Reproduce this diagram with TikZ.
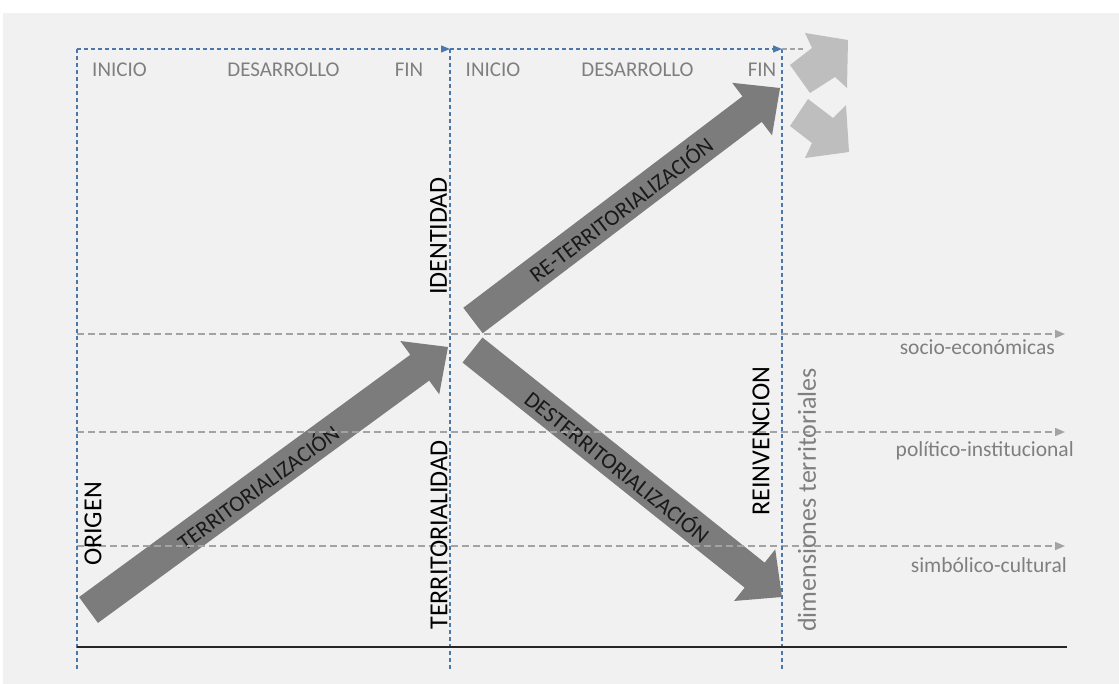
\documentclass[tikz,border=0pt]{standalone}
\usepackage{fontspec}
\setmainfont{Carlito}
\usetikzlibrary{calc,arrows.meta}
\definecolor{bgcol}{HTML}{F1F1F1}
\definecolor{axblue}{HTML}{4A78AD}
\definecolor{dimgray}{HTML}{A3A3A3}
\definecolor{txtgray}{HTML}{7F7F7F}
\definecolor{arrgray}{HTML}{7C7C7C}
\definecolor{ltgray}{HTML}{BEBEBE}
\tikzset{
  phase/.style={font=\fontsize{21}{24}\selectfont, text=txtgray, inner sep=0pt},
  milestone/.style={font=\fontsize{26}{30}\selectfont, rotate=90, inner sep=0pt},
  dimlab/.style={font=\fontsize{21.5}{24}\selectfont, text=txtgray, inner sep=0pt, anchor=east},
  arrlab/.style={font=\fontsize{22.5}{26}\selectfont, text=black!90, inner sep=0pt, sloped},
  timeln/.style={axblue, line width=1.2pt, dash pattern=on 4pt off 3pt},
  dimln/.style={dimgray, line width=1.4pt, dash pattern=on 7pt off 4pt, -{Triangle[length=10pt,width=8pt]}},
  bigarr/.style={fill=arrgray},
  smallarr/.style={fill=ltgray},
}
% fat arrow from tail #1 to tip #2
\newcommand\fatarrow[2]{%
  \coordinate (#2base) at ($(#2)!35pt!(#1)$);
  \fill[bigarr] ($(#1)!16pt!90:(#2)$) -- ($(#2base)!16pt!90:(#2)$) -- ($(#2base)!33pt!90:(#2)$)
    -- (#2) -- ($(#2base)!33pt!-90:(#2)$) -- ($(#2base)!16pt!-90:(#2)$) -- ($(#1)!16pt!-90:(#2)$) -- cycle;
}

\begin{document}
\begin{tikzpicture}[x=1pt, y=-1pt]
\useasboundingbox (0,0) rectangle (1119,684);
\fill[white] (0,0) rectangle (1119,684);
\fill[bgcol] (3,13) rectangle (1119,684);

% the three phases
\coordinate (tA) at (88.5,610); \coordinate (hA) at (448,347);
\coordinate (tB) at (473,320.5); \coordinate (hB) at (780,88);
\coordinate (tC) at (472.5,350); \coordinate (hC) at (782,597);
\fatarrow{tA}{hA}
\fatarrow{tB}{hB}
\fatarrow{tC}{hC}
\path (tA) -- node[arrlab, pos=.47] (lblA) {TERRITORIALIZACIÓN} (hA);
\path (tB) -- node[arrlab, pos=.48] (lblB) {RE-TERRITORIALIZACIÓN} (hB);
\path (tC) -- node[arrlab, pos=.47] (lblC) {DESTERRITORIALIZACIÓN} (hC);

% open end
\fill[smallarr] (790,65) -- (812,48) -- (805,33) -- (848,40) -- (847,88) -- (835,77) -- (810,93) -- cycle;
\fill[smallarr] (790,126) -- (812,143) -- (805,158) -- (849,152) -- (846,105) -- (833,118) -- (808,99) -- cycle;

% territorial dimensions
\coordinate (s0) at (77,334); \coordinate (s1) at (1065,334);
\coordinate (m0) at (77,432); \coordinate (m1) at (1065,432);
\coordinate (c0) at (77,546); \coordinate (c1) at (1065,546);
\draw[dimln] (s0) -- (s1);
\draw[dimln] (m0) -- (m1);
\draw[dimln] (c0) -- (c1);

% time axis
\coordinate (p0) at (77,49); \coordinate (p1) at (450,49);
\coordinate (p2) at (782,49); \coordinate (p3) at (803,49);
\coordinate (q0) at (77,669); \coordinate (q1) at (450,669); \coordinate (q2) at (782,669);
\draw[timeln] (p0) -- (q0);
\draw[timeln] (p1) -- (q1);
\draw[timeln] (p2) -- (q2);
\draw[timeln, -{Triangle[length=9pt,width=7pt]}] (p0) -- (p1);
\draw[timeln, -{Triangle[length=9pt,width=7pt]}] (p1) -- (p2);
\draw[dimgray, line width=1.2pt, dash pattern=on 5pt off 3pt] (p2) -- (p3);
\coordinate (b0) at (77,647); \coordinate (b1) at (1067,647);
\draw[black!85, line width=2pt] (b0) -- (b1);

\node[phase] (ini1) at (119.5,70) {INICIO};
\node[phase] (des1) at (283.5,70) {DESARROLLO};
\node[phase] (fin1) at (409,70) {FIN};
\node[phase] (ini2) at (493,70) {INICIO};
\node[phase] (des2) at (637.5,70) {DESARROLLO};
\node[phase] (fin2) at (762,70) {FIN};

\node[milestone] (origen) at (93,524) {ORIGEN};
\node[milestone] (territ) at (439,535) {TERRITORIALIDAD};
\node[milestone] (ident) at (438.5,236) {IDENTIDAD};
\node[milestone] (reinv) at (761,441) {REINVENCION};
\node[milestone, text=txtgray] (dimens) at (807,500) {dimensiones territoriales};

\node[dimlab] (socio) at (1055,347) {socio-económicas};
\node[dimlab] (polit) at (1074,451) {político-institucional};
\node[dimlab] (simbol) at (1067,565) {simbólico-cultural};
\end{tikzpicture}
\end{document}
